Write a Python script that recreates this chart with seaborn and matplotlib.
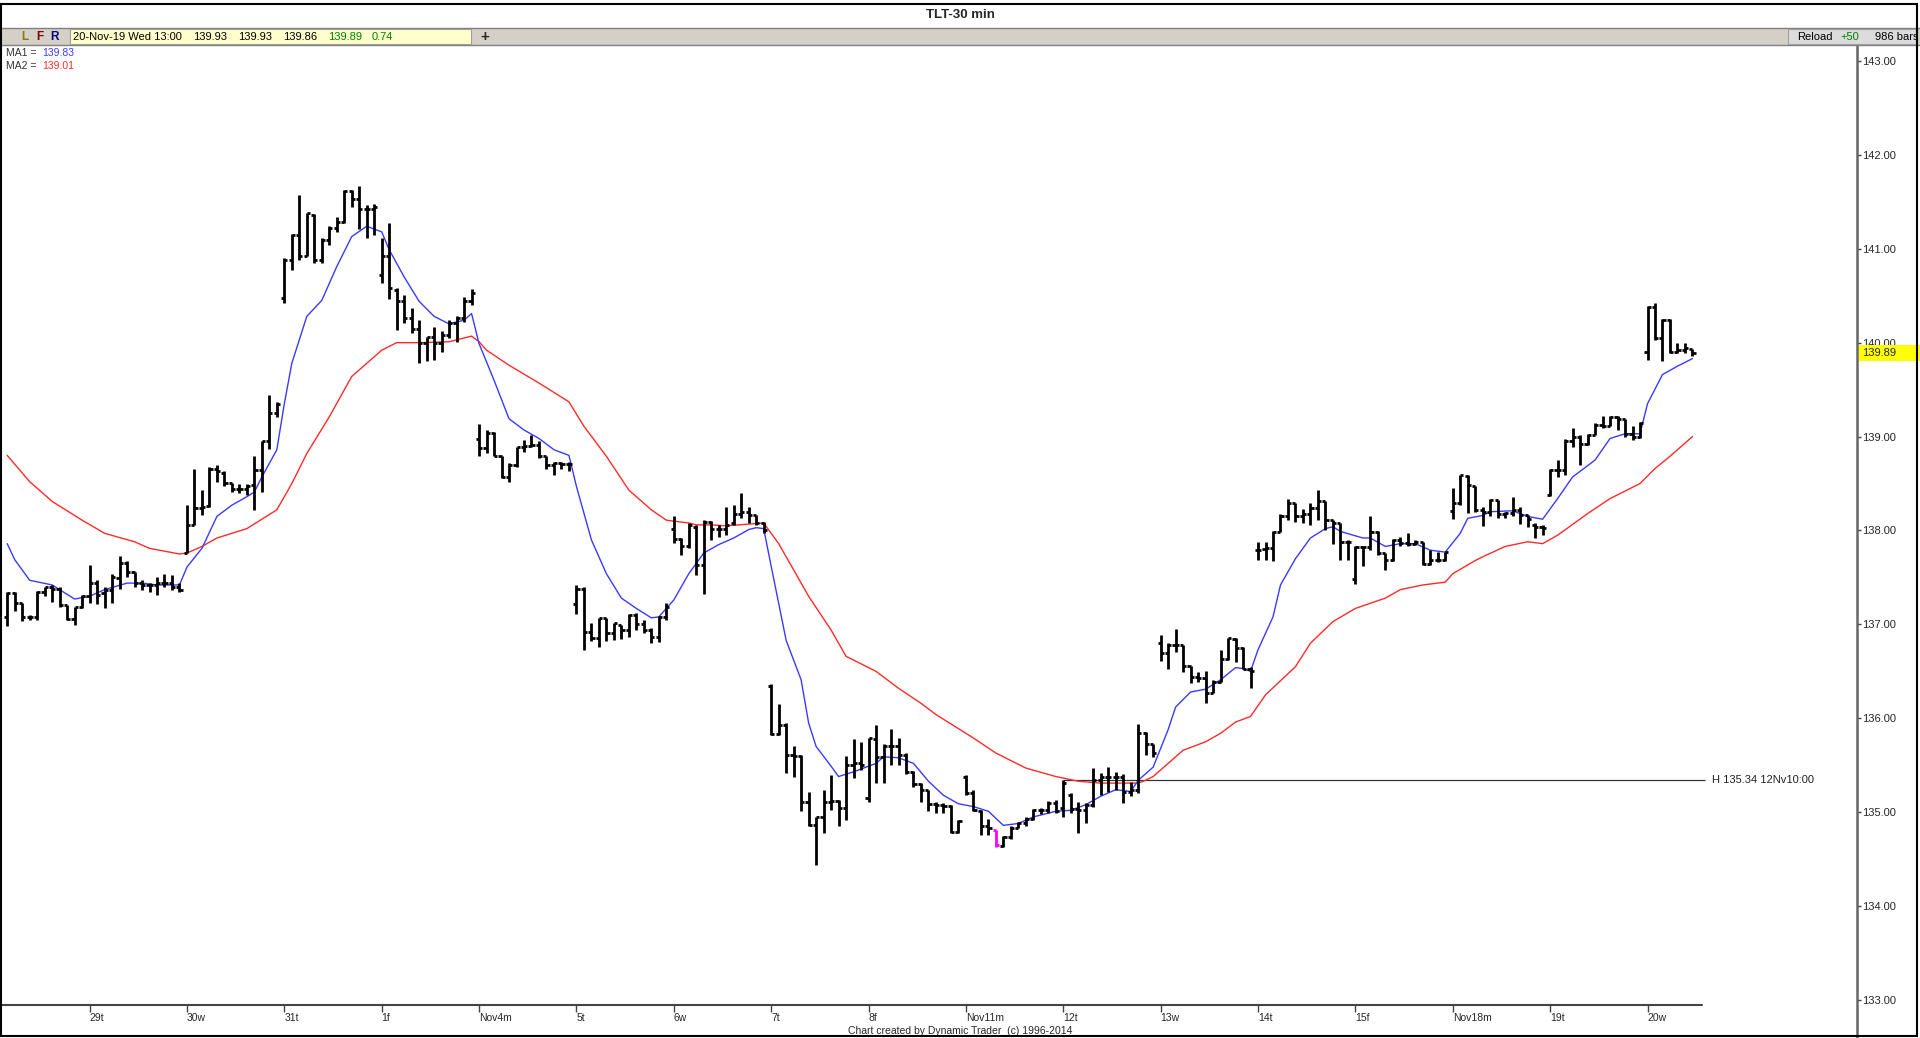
import numpy as np
import pandas as pd
import seaborn as sns
import matplotlib.pyplot as plt
import matplotlib.transforms as mtransforms
from matplotlib.patches import Rectangle
from matplotlib.lines import Line2D

sns.set_style("white")
plt.rcParams["font.family"] = ["Liberation Sans", "DejaVu Sans"]

# ===================== DATA (TLT 30 min bars, 28-Oct .. 20-Nov-2019) =====================
opens = [
    137.08, 137.33, 137.23, 137.08, 137.08, 137.35, 137.40, 137.38, 137.21, 137.06, 137.19,  # 28 Oct
    137.30, 137.44, 137.33, 137.37, 137.49, 137.65, 137.56, 137.44, 137.42, 137.42, 137.44, 137.44, 137.40,  # 29
    137.76, 138.06, 138.24, 138.26, 138.65, 138.61, 138.51, 138.44, 138.44, 138.48, 138.64, 138.95, 139.25,  # 30
    140.48, 140.88, 141.15, 140.92, 141.36, 140.88, 141.09, 141.22, 141.29, 141.62, 141.53, 141.42, 141.42,  # 31
    140.72, 140.92, 140.56, 140.44, 140.26, 140.15, 140.00, 140.06, 140.00, 140.08, 140.21, 140.26, 140.44,  # 1 Nov
    138.97, 138.88, 139.04, 138.79, 138.57, 138.70, 138.89, 138.90, 138.91, 138.79, 138.70, 138.72, 138.71,  # 4
    137.22, 137.38, 136.92, 136.86, 137.07, 136.91, 136.99, 136.94, 137.10, 137.00, 136.94, 136.87, 137.08,  # 5
    138.02, 137.91, 137.83, 138.04, 137.63, 138.09, 138.02, 138.02, 138.08, 138.18, 138.20, 138.17, 138.08,  # 6
    136.34, 135.83, 135.93, 135.61, 135.60, 135.11, 134.86, 134.95, 135.11, 135.12, 135.05, 135.50, 135.52,  # 7
    135.15, 135.78, 135.59, 135.70, 135.70, 135.61, 135.43, 135.30, 135.24, 135.09, 135.08, 135.07, 134.79,  # 8
    135.38, 135.20, 135.01, 134.85, 134.81, 134.64, 134.74, 134.83, 134.88, 134.93, 135.02, 135.02, 135.10,  # 11
    135.04, 135.18, 135.03, 135.02, 135.08, 135.34, 135.38, 135.38, 135.38, 135.22, 135.24, 135.84, 135.73,  # 12
    136.80, 136.70, 136.78, 136.78, 136.56, 136.44, 136.43, 136.27, 136.39, 136.63, 136.84, 136.75, 136.53,  # 13
    137.79, 137.80, 137.81, 137.98, 138.15, 138.29, 138.15, 138.18, 138.24, 138.31, 138.11, 138.08, 137.88,  # 14
    137.48, 137.82, 137.82, 137.98, 137.76, 137.69, 137.90, 137.87, 137.86, 137.88, 137.64, 137.69, 137.69,  # 15
    138.21, 138.29, 138.58, 138.47, 138.22, 138.20, 138.33, 138.18, 138.19, 138.22, 138.16, 138.06, 138.04,  # 18
    138.38, 138.64, 138.64, 138.95, 139.00, 138.92, 139.02, 139.12, 139.11, 139.21, 139.19, 139.03, 139.00,  # 19
    139.90, 140.38, 140.05, 140.24, 139.90, 139.92, 139.93,  # 20
]
highs = [
    137.34, 137.34, 137.23, 137.10, 137.36, 137.40, 137.42, 137.40, 137.21, 137.19, 137.31,
    137.63, 137.47, 137.40, 137.54, 137.73, 137.67, 137.56, 137.47, 137.44, 137.50, 137.54, 137.53, 137.44,
    138.27, 138.66, 138.43, 138.68, 138.70, 138.63, 138.51, 138.49, 138.50, 138.79, 138.95, 139.44, 139.37,
    140.90, 141.16, 141.57, 141.38, 141.37, 141.11, 141.24, 141.34, 141.63, 141.63, 141.67, 141.47, 141.48,
    141.11, 141.27, 140.58, 140.51, 140.37, 140.24, 140.06, 140.17, 140.12, 140.24, 140.28, 140.49, 140.57,
    139.13, 139.07, 139.05, 138.79, 138.72, 138.89, 138.96, 139.02, 138.95, 138.79, 138.73, 138.73, 138.73,
    137.42, 137.40, 137.01, 137.07, 137.07, 137.02, 136.99, 137.11, 137.12, 137.05, 136.96, 137.09, 137.23,
    138.15, 137.92, 138.08, 138.06, 138.11, 138.10, 138.06, 138.25, 138.27, 138.40, 138.25, 138.17, 138.09,
    136.36, 136.15, 135.95, 135.70, 135.61, 135.22, 134.95, 135.24, 135.40, 135.13, 135.60, 135.78, 135.75,
    135.79, 135.93, 135.73, 135.89, 135.79, 135.63, 135.44, 135.31, 135.24, 135.11, 135.10, 135.08, 134.92,
    135.40, 135.24, 135.02, 134.93, 134.81, 134.75, 134.85, 134.90, 134.95, 135.03, 135.04, 135.12, 135.13,
    135.34, 135.20, 135.11, 135.10, 135.47, 135.42, 135.48, 135.43, 135.41, 135.32, 135.94, 135.85, 135.73,
    136.89, 136.80, 136.95, 136.78, 136.56, 136.49, 136.50, 136.41, 136.73, 136.85, 136.85, 136.76, 136.55,
    137.88, 137.88, 137.99, 138.18, 138.34, 138.29, 138.23, 138.29, 138.43, 138.31, 138.11, 138.08, 137.90,
    137.83, 137.83, 138.15, 137.99, 137.76, 137.91, 137.93, 137.97, 137.90, 137.88, 137.79, 137.77, 137.77,
    138.45, 138.59, 138.59, 138.47, 138.25, 138.34, 138.33, 138.20, 138.36, 138.25, 138.16, 138.08, 138.06,
    138.66, 138.75, 138.97, 139.09, 139.02, 139.03, 139.14, 139.22, 139.22, 139.22, 139.19, 139.11, 139.16,
    140.39, 140.42, 140.25, 140.25, 140.00, 140.00, 139.93,
]
lows = [
    136.98, 137.14, 137.04, 137.05, 137.05, 137.30, 137.24, 137.19, 137.05, 136.99, 137.17,
    137.23, 137.22, 137.17, 137.23, 137.38, 137.51, 137.40, 137.37, 137.35, 137.31, 137.40, 137.37, 137.34,
    137.76, 138.06, 138.17, 138.25, 138.52, 138.47, 138.41, 138.40, 138.38, 138.22, 138.41, 138.87, 139.21,
    140.42, 140.77, 140.88, 140.92, 140.85, 140.85, 141.04, 141.18, 141.27, 141.45, 141.21, 141.11, 141.15,
    140.64, 140.47, 140.14, 140.21, 140.10, 139.78, 139.80, 139.82, 139.90, 140.05, 140.01, 140.22, 140.40,
    138.79, 138.82, 138.79, 138.56, 138.52, 138.68, 138.84, 138.89, 138.77, 138.66, 138.59, 138.66, 138.63,
    137.11, 136.73, 136.82, 136.76, 136.82, 136.83, 136.84, 136.87, 136.94, 136.91, 136.80, 136.81, 137.05,
    137.87, 137.74, 137.81, 137.53, 137.32, 137.90, 137.93, 137.95, 138.06, 138.13, 138.08, 138.06, 137.97,
    135.82, 135.82, 135.42, 135.38, 135.01, 134.85, 134.44, 134.78, 135.02, 134.85, 134.92, 135.36, 135.45,
    135.11, 135.31, 135.31, 135.50, 135.50, 135.41, 135.27, 135.11, 135.01, 134.99, 134.99, 134.78, 134.78,
    135.18, 135.01, 134.76, 134.76, 134.63, 134.63, 134.72, 134.83, 134.85, 134.92, 134.98, 134.99, 134.99,
    134.95, 134.99, 134.78, 134.88, 135.06, 135.18, 135.22, 135.24, 135.10, 135.17, 135.20, 135.61, 135.59,
    136.61, 136.52, 136.71, 136.49, 136.38, 136.39, 136.16, 136.27, 136.39, 136.62, 136.60, 136.52, 136.32,
    137.69, 137.69, 137.67, 137.98, 138.11, 138.09, 138.08, 138.06, 138.11, 138.00, 137.86, 137.69, 137.69,
    137.43, 137.62, 137.79, 137.74, 137.58, 137.67, 137.83, 137.83, 137.85, 137.63, 137.63, 137.66, 137.67,
    138.12, 138.27, 138.19, 138.20, 138.05, 138.15, 138.13, 138.13, 138.15, 138.07, 138.04, 137.92, 137.95,
    138.37, 138.57, 138.59, 138.89, 138.70, 138.91, 139.02, 139.09, 139.11, 139.07, 139.00, 138.96, 138.98,
    139.82, 140.03, 139.81, 139.89, 139.89, 139.89, 139.86,
]
closes = [
    137.33, 137.23, 137.08, 137.08, 137.35, 137.40, 137.38, 137.21, 137.06, 137.19, 137.30,
    137.44, 137.31, 137.37, 137.51, 137.65, 137.56, 137.44, 137.42, 137.42, 137.44, 137.44, 137.40, 137.37,
    138.06, 138.24, 138.25, 138.65, 138.63, 138.51, 138.44, 138.44, 138.47, 138.64, 138.95, 139.25, 139.35,
    140.88, 141.15, 140.92, 141.38, 140.88, 141.09, 141.22, 141.29, 141.61, 141.53, 141.42, 141.42, 141.44,
    140.92, 140.58, 140.44, 140.26, 140.15, 140.00, 140.06, 140.00, 140.08, 140.21, 140.26, 140.44, 140.53,
    138.88, 139.04, 138.79, 138.57, 138.70, 138.89, 138.90, 138.91, 138.79, 138.70, 138.72, 138.71, 138.71,
    137.38, 136.92, 136.86, 137.07, 136.91, 137.01, 136.94, 137.10, 137.00, 136.94, 136.87, 137.08, 137.19,
    137.91, 137.83, 138.06, 137.63, 138.09, 138.02, 138.02, 138.06, 138.18, 138.20, 138.17, 138.08, 138.01,
    135.83, 135.93, 135.61, 135.60, 135.11, 134.86, 134.95, 135.11, 135.12, 135.05, 135.50, 135.52, 135.50,
    135.79, 135.59, 135.70, 135.70, 135.61, 135.43, 135.30, 135.24, 135.09, 135.08, 135.07, 134.79, 134.91,
    135.20, 135.02, 134.85, 134.83, 134.65, 134.74, 134.83, 134.88, 134.93, 135.02, 135.02, 135.10, 135.01,
    135.31, 135.03, 135.02, 135.08, 135.34, 135.38, 135.38, 135.38, 135.22, 135.24, 135.84, 135.73, 135.63,
    136.70, 136.78, 136.78, 136.56, 136.44, 136.43, 136.27, 136.39, 136.63, 136.85, 136.75, 136.53, 136.50,
    137.79, 137.81, 137.98, 138.15, 138.29, 138.15, 138.18, 138.24, 138.31, 138.11, 138.08, 137.88, 137.88,
    137.82, 137.82, 137.98, 137.76, 137.69, 137.90, 137.87, 137.86, 137.88, 137.64, 137.69, 137.69, 137.77,
    138.29, 138.59, 138.48, 138.22, 138.20, 138.33, 138.18, 138.19, 138.22, 138.16, 138.12, 138.04, 138.03,
    138.64, 138.64, 138.95, 139.00, 138.92, 139.02, 139.12, 139.11, 139.21, 139.19, 139.03, 139.00, 139.15,
    140.38, 140.05, 140.24, 139.90, 139.92, 139.94, 139.89,
]

# moving averages (bar number, value)
ma1_bar = [0, 1, 3, 6, 7, 9, 11, 13, 16, 18, 20, 23, 24, 26, 28, 30, 32, 33, 34, 36, 37, 38, 40, 42,
           44, 46, 48, 50, 51, 53, 55, 57, 59, 61, 62, 63, 65, 67, 69, 71, 73, 75, 76, 78, 80, 82,
           84, 86, 87, 89, 91, 93, 95, 97, 99, 100, 101, 102, 104, 106, 107, 108, 110, 111, 113, 116,
           117, 119, 121, 123, 125, 127, 129, 131, 133, 135, 137, 140, 142, 144, 146, 148, 150, 151,
           153, 155, 156, 158, 160, 162, 164, 165, 166, 167, 169, 170, 172, 174, 176, 177, 178, 181,
           182, 184, 186, 188, 190, 192, 194, 195, 197, 198, 201, 203, 205, 207, 209, 212, 214, 216,
           218, 219, 221, 223, 225]
ma1_val = [137.86, 137.69, 137.47, 137.42, 137.37, 137.27, 137.30, 137.37, 137.44, 137.44, 137.42,
           137.42, 137.61, 137.81, 138.15, 138.27, 138.36, 138.41, 138.57, 138.86, 139.35, 139.78,
           140.28, 140.45, 140.81, 141.13, 141.24, 141.18, 140.99, 140.70, 140.44, 140.28, 140.20,
           140.24, 140.31, 139.99, 139.60, 139.19, 139.07, 138.98, 138.86, 138.80, 138.47, 137.90,
           137.54, 137.28, 137.17, 137.07, 137.08, 137.26, 137.54, 137.76, 137.85, 137.92, 138.01,
           138.03, 138.02, 137.62, 136.83, 136.41, 135.95, 135.70, 135.49, 135.38, 135.43, 135.52,
           135.59, 135.58, 135.52, 135.33, 135.18, 135.09, 135.06, 135.01, 134.86, 134.88, 134.95,
           135.01, 135.02, 135.08, 135.17, 135.24, 135.22, 135.34, 135.48, 135.88, 136.12, 136.28,
           136.31, 136.41, 136.54, 136.53, 136.50, 136.73, 137.08, 137.42, 137.70, 137.92, 138.02,
           138.04, 137.99, 137.92, 137.92, 137.83, 137.86, 137.86, 137.79, 137.77, 137.97, 138.13,
           138.16, 138.20, 138.21, 138.15, 138.12, 138.34, 138.57, 138.75, 138.98, 139.03, 139.03,
           139.35, 139.66, 139.75, 139.83]
ma2_bar = [0, 3, 6, 10, 13, 17, 19, 23, 24, 26, 28, 30, 32, 36, 38, 40, 43, 46, 50, 52, 55, 59, 60,
           62, 63, 64, 67, 71, 75, 77, 80, 83, 86, 88, 91, 92, 94, 96, 101, 103, 105, 107, 110, 112,
           116, 119, 122, 124, 127, 129, 132, 136, 140, 143, 146, 149, 151, 152, 153, 155, 157, 160,
           162, 164, 166, 168, 172, 174, 177, 180, 184, 186, 189, 192, 193, 196, 197, 200, 203, 205,
           207, 211, 214, 218, 220, 222, 225]
ma2_val = [138.80, 138.52, 138.31, 138.11, 137.97, 137.88, 137.81, 137.75, 137.76, 137.83, 137.92,
           137.97, 138.02, 138.22, 138.50, 138.82, 139.21, 139.64, 139.92, 140.00, 140.00, 140.01,
           140.03, 140.07, 140.01, 139.92, 139.76, 139.57, 139.37, 139.11, 138.79, 138.43, 138.22,
           138.11, 138.08, 138.06, 138.06, 138.05, 138.08, 137.86, 137.58, 137.30, 136.94, 136.66,
           136.50, 136.32, 136.16, 136.04, 135.89, 135.79, 135.63, 135.47, 135.38, 135.33, 135.31,
           135.31, 135.31, 135.34, 135.38, 135.52, 135.66, 135.75, 135.84, 135.96, 136.02, 136.25,
           136.55, 136.80, 137.03, 137.17, 137.28, 137.37, 137.42, 137.45, 137.54, 137.68, 137.72,
           137.83, 137.88, 137.86, 137.95, 138.18, 138.34, 138.50, 138.66, 138.79, 139.00]

day_labels = ["29t", "30w", "31t", "1f", "Nov4m", "5t", "6w", "7t", "8f",
              "Nov11m", "12t", "13w", "14t", "15f", "Nov18m", "19t", "20w"]
day_first_bar = [11, 24, 37, 50, 63, 76, 89, 102, 115, 128, 141, 154, 167, 180, 193, 206, 219]
price_ticks = [133, 134, 135, 136, 137, 138, 139, 140, 141, 142, 143]

low_bar = 132          # bar drawn in magenta
h_level = 135.34
h_bar = 141            # 12Nv 10:00
last_price = 139.89

# ===================== FIGURE =====================
W, H = 1920, 1038
fig = plt.figure(figsize=(W / 100, H / 100), dpi=100)
fig.patch.set_facecolor("white")


def fx(px):
    return px / W


def fy(py):
    return 1 - py / H


ax = fig.add_axes([0, fy(1005), fx(1857), (1005 - 45) / H])
ax.set_facecolor("white")

idx = np.arange(len(closes))
bar_colors = ["black"] * len(closes)
bar_colors[low_bar] = "#ff00ff"

ax.vlines(idx, lows, highs, colors=bar_colors, lw=2.0, zorder=3)
ax.hlines(opens, idx - 0.42, idx, colors=bar_colors, lw=2.0, zorder=3)
ax.hlines(closes, idx, idx + 0.42, colors=bar_colors, lw=2.0, zorder=3)

ma1 = pd.DataFrame({"bar": ma1_bar, "val": ma1_val})
ma2 = pd.DataFrame({"bar": ma2_bar, "val": ma2_val})
sns.lineplot(data=ma2, x="bar", y="val", ax=ax, color="#ff2a2a", lw=1.0,
             estimator=None, sort=False, zorder=2)
sns.lineplot(data=ma1, x="bar", y="val", ax=ax, color="#3a3aff", lw=1.0,
             estimator=None, sort=False, zorder=2)

# H line from the 12 Nov 10:00 high
ax.hlines(h_level, h_bar, len(closes) + 0.7, colors="#333333", lw=0.9, zorder=1)
ax.text(len(closes) + 1.6, h_level, f"H {h_level:.2f} 12Nv10:00", fontsize=8,
        va="center", ha="left", color="#222222")

ax.set_xlim(-0.96, 246.97)
ax.set_ylim(132.947, 143.17)
ax.set_xlabel("")
ax.set_ylabel("")

for s in ax.spines.values():
    s.set_visible(False)

ax.set_xticks(day_first_bar)
ax.set_xticklabels(day_labels)
shift = mtransforms.ScaledTranslation(2 / 100, 0, fig.dpi_scale_trans)
for lbl in ax.get_xticklabels():
    lbl.set_horizontalalignment("left")
    lbl.set_transform(lbl.get_transform() + shift)
ax.tick_params(axis="x", bottom=True, direction="out", length=5, width=1,
               color="#444444", labelsize=7.5, pad=1)

ax.yaxis.tick_right()
ax.set_yticks(price_ticks)
ax.set_yticklabels([f"{v:.2f}" for v in price_ticks])
ax.tick_params(axis="y", right=True, left=False, direction="out", length=3, width=1,
               color="#444444", labelsize=8, pad=1)

# x axis line stops at the last bar region, price axis runs to the bottom
ax.plot([0, fx(1702) / fx(1857)], [0, 0], transform=ax.transAxes,
        color="#444444", lw=1.5, clip_on=False)
fig.add_artist(Line2D([fx(1857), fx(1857)], [0, fy(44)], color="#666666", lw=1.8))

# ===================== HEADER =====================
fig.text(0.5, fy(15), "TLT-30 min", ha="center", va="center", fontsize=9.5, fontweight="bold")
fig.add_artist(Rectangle((0, fy(45)), 1, 17 / H, facecolor="#d4d0c8", edgecolor="none", zorder=1))
fig.add_artist(Line2D([0, 1], [fy(28), fy(28)], color="#808080", lw=1))
fig.add_artist(Line2D([0, 1], [fy(45), fy(45)], color="#808080", lw=1))
fig.add_artist(Rectangle((fx(70), fy(44)), fx(471) - fx(70), 15 / H,
                         facecolor="#ffffcc", edgecolor="#a0a0a0", lw=0.8, zorder=2))
fig.add_artist(Rectangle((fx(1788), fy(44)), fx(1917) - fx(1788), 15 / H,
                         facecolor="#dcdcdc", edgecolor="#a0a0a0", lw=0.8, zorder=2))

for x, t, c in [(21, "L", "#808000"), (36, "F", "#800000"), (50, "R", "#000080")]:
    fig.text(fx(x), fy(37), t, color=c, fontsize=8.5, fontweight="bold", va="center", zorder=3)

for x, t, c in [(73, "20-Nov-19 Wed 13:00", "black"), (193, "139.93", "black"),
                (238, "139.93", "black"), (283, "139.86", "black"),
                (328, "139.89", "#008000"), (372, "0.74", "#008000")]:
    fig.text(fx(x), fy(37), t, color=c, fontsize=8, va="center", zorder=3)
fig.text(fx(485), fy(37), "+", fontsize=11, fontweight="bold", va="center", ha="center", zorder=3)

for x, t, c in [(1797, "Reload", "black"), (1840, "+50", "#008000"), (1875, "986 bars", "black")]:
    fig.text(fx(x), fy(37), t, color=c, fontsize=8, va="center", zorder=3)

# MA legend
fig.text(fx(6), fy(53), "MA1 =", color="#333333", fontsize=7.5, va="center")
fig.text(fx(42), fy(53), "139.83", color="#3a3aff", fontsize=7.5, va="center")
fig.text(fx(6), fy(66), "MA2 =", color="#333333", fontsize=7.5, va="center")
fig.text(fx(42), fy(66), "139.01", color="#ff2a2a", fontsize=7.5, va="center")

# last price tag
tag_y = 61 + (143 - last_price) * 93.9
fig.add_artist(Rectangle((fx(1859), fy(tag_y + 8)), fx(1920) - fx(1859), 16 / H,
                         facecolor="#ffff00", edgecolor="none", zorder=4))
fig.text(fx(1862), fy(tag_y), f"{last_price:.2f}", fontsize=8, va="center", zorder=5)

# footer
fig.text(0.5, fy(1031), "Chart created by Dynamic Trader  (c) 1996-2014",
         ha="center", va="center", fontsize=7.5)

# window frame
fig.add_artist(Rectangle((fx(1), fy(1036)), fx(1917) - fx(1), (1036 - 4) / H,
                         facecolor="none", edgecolor="black", lw=1.5, zorder=6))

fig.savefig("out.png", dpi=100)
